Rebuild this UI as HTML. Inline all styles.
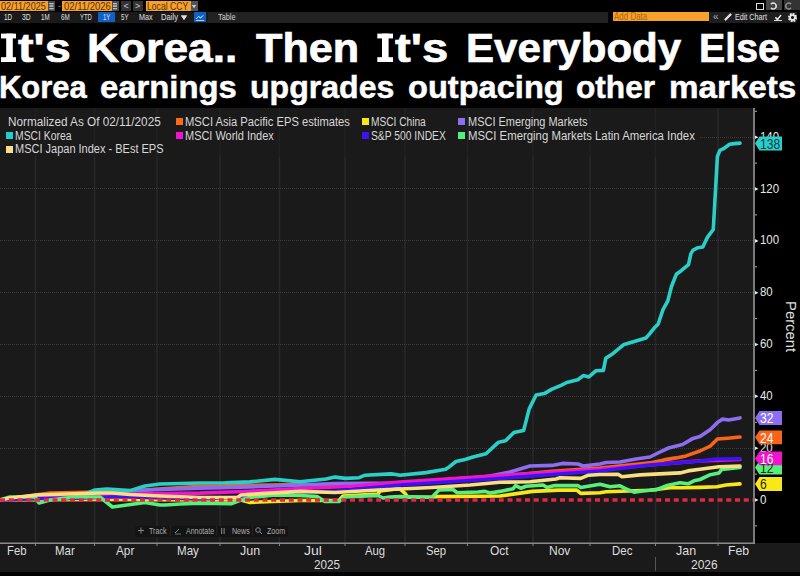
<!DOCTYPE html>
<html><head><meta charset="utf-8">
<style>
*{margin:0;padding:0;box-sizing:border-box}
html,body{width:800px;height:576px;background:#000;overflow:hidden}
body{position:relative;font-family:"Liberation Sans",sans-serif;color:#e8e8e8}
.a{position:absolute;white-space:nowrap;transform-origin:0 0}
.tb{font-size:9px;line-height:10px}
</style></head><body>
<!-- toolbar row 1 -->
<div class="a" style="left:0;top:1px;width:48px;height:10px;background:#f5a12c"></div>
<div class="a" style="left:48px;top:1px;width:7px;height:10px;background:#4a4a4a"></div>
<div class="a tb" style="left:58px;top:1px;color:#888">-</div>
<div class="a" style="left:62px;top:1px;width:49.5px;height:10px;background:#f5a12c"></div>
<div class="a" style="left:111.5px;top:1px;width:7px;height:10px;background:#4a4a4a"></div>
<div class="a" style="left:121px;top:1px;width:10px;height:10px;background:#333"></div>
<div class="a tb" style="left:123.5px;top:1px;color:#ccc">&lt;</div>
<div class="a" style="left:132.5px;top:1px;width:10px;height:10px;background:#333"></div>
<div class="a tb" style="left:135px;top:1px;color:#ccc">&gt;</div>
<div class="a" style="left:145.5px;top:1px;width:45px;height:10px;background:#f5a12c"></div>
<div class="a" style="left:190.5px;top:1px;width:7px;height:10px;background:#555"></div>
<!-- toolbar row 2 -->
<div class="a" style="left:0;top:12px;width:208px;height:11px;background:#1a1a1a"></div>
<div class="a" style="left:208px;top:12px;width:400px;height:11px;background:#222"></div>
<div class="a" style="left:98px;top:12px;width:17px;height:10px;background:#1060c8"></div>
<div class="a" style="left:194px;top:12px;width:12px;height:10px;background:#1060c8"></div>
<div class="a" style="left:613px;top:12px;width:96px;height:9px;background:#f5a12c"></div>
<div class="a" style="left:709px;top:12px;width:88px;height:11px;background:#1e1e1e"></div>
<div class="a tb" style="left:713px;top:12px;color:#aac;font-size:10px">&laquo;</div>

<div class="a" style="left:756px;top:3px;width:8px;height:7px;border:1px solid #ddd"></div>
<div class="a" style="left:766px;top:0;width:16px;height:10px;background:#444"></div>
<div class="a" style="left:783.5px;top:0;width:16.5px;height:10px;background:#333"></div>
<!-- chart bg -->
<div class="a" style="left:0;top:108px;width:754px;height:435px;background:#1a1a1a"></div>
<div class="a" style="left:0;top:543px;width:800px;height:28.5px;background:#1a1a1a"></div>
<svg class="a" style="left:0;top:0" width="800" height="576" viewBox="0 0 800 576">
<line x1="35.5" y1="108" x2="35.5" y2="543" stroke="#282828" stroke-width="1.5"/>
<line x1="35.5" y1="543" x2="35.5" y2="546" stroke="#888" stroke-width="1"/>
<line x1="94.5" y1="108" x2="94.5" y2="543" stroke="#282828" stroke-width="1.5"/>
<line x1="94.5" y1="543" x2="94.5" y2="546" stroke="#888" stroke-width="1"/>
<line x1="157" y1="108" x2="157" y2="543" stroke="#282828" stroke-width="1.5"/>
<line x1="157" y1="543" x2="157" y2="546" stroke="#888" stroke-width="1"/>
<line x1="220" y1="108" x2="220" y2="543" stroke="#282828" stroke-width="1.5"/>
<line x1="220" y1="543" x2="220" y2="546" stroke="#888" stroke-width="1"/>
<line x1="279.5" y1="108" x2="279.5" y2="543" stroke="#282828" stroke-width="1.5"/>
<line x1="279.5" y1="543" x2="279.5" y2="546" stroke="#888" stroke-width="1"/>
<line x1="345" y1="108" x2="345" y2="543" stroke="#282828" stroke-width="1.5"/>
<line x1="345" y1="543" x2="345" y2="546" stroke="#888" stroke-width="1"/>
<line x1="405" y1="108" x2="405" y2="543" stroke="#282828" stroke-width="1.5"/>
<line x1="405" y1="543" x2="405" y2="546" stroke="#888" stroke-width="1"/>
<line x1="467.5" y1="108" x2="467.5" y2="543" stroke="#282828" stroke-width="1.5"/>
<line x1="467.5" y1="543" x2="467.5" y2="546" stroke="#888" stroke-width="1"/>
<line x1="533" y1="108" x2="533" y2="543" stroke="#282828" stroke-width="1.5"/>
<line x1="533" y1="543" x2="533" y2="546" stroke="#888" stroke-width="1"/>
<line x1="590" y1="108" x2="590" y2="543" stroke="#282828" stroke-width="1.5"/>
<line x1="590" y1="543" x2="590" y2="546" stroke="#888" stroke-width="1"/>
<line x1="655.5" y1="108" x2="655.5" y2="543" stroke="#282828" stroke-width="1.5"/>
<line x1="655.5" y1="543" x2="655.5" y2="546" stroke="#888" stroke-width="1"/>
<line x1="718" y1="108" x2="718" y2="543" stroke="#282828" stroke-width="1.5"/>
<line x1="718" y1="543" x2="718" y2="546" stroke="#888" stroke-width="1"/>
<line x1="700" y1="137.5" x2="753" y2="137.5" stroke="#3a3a3a" stroke-width="1" stroke-dasharray="1,1"/>
<line x1="0" y1="188.5" x2="753" y2="188.5" stroke="#3a3a3a" stroke-width="1" stroke-dasharray="1,1"/>
<line x1="0" y1="240.5" x2="753" y2="240.5" stroke="#3a3a3a" stroke-width="1" stroke-dasharray="1,1"/>
<line x1="0" y1="292.5" x2="753" y2="292.5" stroke="#3a3a3a" stroke-width="1" stroke-dasharray="1,1"/>
<line x1="0" y1="344.5" x2="753" y2="344.5" stroke="#3a3a3a" stroke-width="1" stroke-dasharray="1,1"/>
<line x1="0" y1="396.5" x2="753" y2="396.5" stroke="#3a3a3a" stroke-width="1" stroke-dasharray="1,1"/>
<line x1="0" y1="448.5" x2="753" y2="448.5" stroke="#3a3a3a" stroke-width="1" stroke-dasharray="1,1"/>
<rect x="0" y="108" width="700" height="49" fill="#1a1a1a" fill-opacity="0.5"/>
<polyline fill="none" stroke="#f8641c" stroke-width="3.6" stroke-linejoin="round" stroke-linecap="round" points="0,500 35,495 50,493 75,492.5 100,492 145,490 200,486.25 300,484.5 335,486 400,483.5 460,478.5 497,476 526,473.9 552,471.25 600,468 650,462.9 664,459.9 676,457.9 686,455.9 700,451 710.4,446 717.4,439 727.8,438.2 740,437"/>
<polyline fill="none" stroke="#f8e818" stroke-width="3.6" stroke-linejoin="round" stroke-linecap="round" points="0,500 100,499.5 200,500 241,500 250,502.5 259,502 300,500.5 339,500.5 343,496 378,494 380,491 396,489 400,489 405,493.4 408,497.3 432,497.3 436,496.6 500,496 532.5,491.4 558.6,490.1 576.8,490.1 580.7,493.4 600,492.7 606,491.8 650,490.2 670,487.8 680,487.8 700,487.4 717,486.8 726,485 740,483.9"/>
<polyline fill="none" stroke="#8c6ff0" stroke-width="3.6" stroke-linejoin="round" stroke-linecap="round" points="0,500 50,498 100,495 145,490 200,488.1 250,486.9 300,485 335,483.5 400,483 460,479.5 490,476 510,472 530,466 552,465.4 562.5,463.4 578,464 583,466 600,464 606,462.5 620,462 636,459 650,457 658,453 668.5,448 682.5,444.5 693,438.4 700,436.6 710.4,429.5 717.4,422.6 722.6,419.1 728.6,420 740,417.9"/>
<polyline fill="none" stroke="#2ad0c8" stroke-width="3.6" stroke-linejoin="round" stroke-linecap="round" points="0,500 30,498.5 60,496.5 85,494 95,490 107,489 130,490.6 145,486 160,484 200,483 225,482.8 250,481.9 275,479.4 287.5,480.6 300,481.7 326,479 335,477.1 345.6,478.4 358.6,477.8 365,475.2 391,473.9 396,474.5 400,475.2 426,472.6 445.6,469.3 449.5,466.7 456,461.5 465,459.5 473,457 486,453.7 491,449.1 498.6,442.2 505.6,440.8 513.9,432.5 523.6,430.6 529.2,408.9 536.1,395 544.4,393.6 551.4,389.4 561.1,385.3 566.7,382.5 577.8,379.7 583.3,375.6 588.9,376.9 595.8,370.8 603.4,370.4 605.8,358.2 613.1,353.4 624,344.4 632.6,341.9 645.9,338 649.6,333.9 654.4,327.8 658.1,324.2 663,309.6 667.8,301 671.5,286.5 676.3,274.3 681.2,270.7 688.5,264.6 690.9,253.6 693.1,250.1 698,247.7 702.8,247 707.7,236.8 713.3,229.5 717.4,156.5 719.9,150.4 723.5,148.7 729.6,144.3 734.5,143.6 740,143.1"/>
<polyline fill="none" stroke="#f014cc" stroke-width="3.6" stroke-linejoin="round" stroke-linecap="round" points="0,500 50,497 100,494 130,494 200,493.1 250,491.25 300,488.5 352,486.2 400,482 500,475.5 600,469.4 650,464.9 700,460.9 740,459.5"/>
<polyline fill="none" stroke="#3c14f4" stroke-width="3.6" stroke-linejoin="round" stroke-linecap="round" points="0,500 41,498.5 67,498.5 100,497.5 112,497 130,497 200,499 244,496.9 250,497 300,492 335,491.4 400,485 500,478.5 600,471 650,465 700,461 717,459 740,458.7"/>
<polyline fill="none" stroke="#56f07a" stroke-width="3.6" stroke-linejoin="round" stroke-linecap="round" points="0,500 10,497 35,497 39,503 50,500 75,497 100,497 112.5,507 145,502.5 160,505 165,505 180,504 200,503.1 231,503.75 241,500 250,497.5 275,495 300,495.5 317,496.5 325,501.5 339,501.5 345,497 378,495.5 383,498 390,497 400,496.6 432,497.3 439,490 453,489.5 457,492.7 478,492 485,491.4 490,493 500,491.4 513,488.8 515.6,485.6 520.8,488.2 526,486.2 543,485 547,487.5 554.7,485.6 578,485.6 580.7,487.5 600,484.3 610,486.8 620,485.8 626,488.8 634,492.2 644,490.8 656,489.8 666,485.8 680,482.8 688,483.8 694,480.8 700,479.5 710.4,474.7 719,473 721.7,469.4 740,467.4"/>
<polyline fill="none" stroke="#f8e080" stroke-width="3.6" stroke-linejoin="round" stroke-linecap="round" points="0,500 10,498 37,495 50,494.5 75,493.7 100,493 112,493 130,494.5 160,496 200,497.5 237.5,497.5 241,495 250,494.4 300,491.4 335,492.5 378,490 400,489 432,487.5 470,485 500,482.3 530,481.7 556,479 560,477.8 580.7,478.4 588.5,475.2 600,474.5 618,474.25 622,476.8 640,474.9 680,472.9 688,470.9 700,469.2 719,466.8 740,466"/>
<line x1="0" y1="500" x2="753" y2="500" stroke="#e0284a" stroke-width="3.5" stroke-dasharray="5,3.75"/>
<line x1="754" y1="108" x2="754" y2="543" stroke="#7a7a7a" stroke-width="2"/>
<line x1="0" y1="543.2" x2="755" y2="543.2" stroke="#8a8a8a" stroke-width="1.6"/>
<line x1="655.5" y1="557" x2="655.5" y2="571" stroke="#555" stroke-width="1"/>
<polygon points="755,135.4 758.5,137.2 755,139.0" fill="#e8e8e8"/>
<polygon points="755,187.2 758.5,189.0 755,190.8" fill="#e8e8e8"/>
<polygon points="755,239.1 758.5,240.9 755,242.7" fill="#e8e8e8"/>
<polygon points="755,290.9 758.5,292.7 755,294.5" fill="#e8e8e8"/>
<polygon points="755,342.7 758.5,344.5 755,346.3" fill="#e8e8e8"/>
<polygon points="755,394.5 758.5,396.3 755,398.1" fill="#e8e8e8"/>
<polygon points="755,446.4 758.5,448.2 755,450.0" fill="#e8e8e8"/>
<polygon points="755,498.2 758.5,500.0 755,501.8" fill="#e8e8e8"/>
<line x1="755" y1="111.3" x2="757" y2="111.3" stroke="#aaa" stroke-width="1"/>
<line x1="755" y1="163.1" x2="757" y2="163.1" stroke="#aaa" stroke-width="1"/>
<line x1="755" y1="214.9" x2="757" y2="214.9" stroke="#aaa" stroke-width="1"/>
<line x1="755" y1="266.8" x2="757" y2="266.8" stroke="#aaa" stroke-width="1"/>
<line x1="755" y1="318.6" x2="757" y2="318.6" stroke="#aaa" stroke-width="1"/>
<line x1="755" y1="370.4" x2="757" y2="370.4" stroke="#aaa" stroke-width="1"/>
<line x1="755" y1="422.3" x2="757" y2="422.3" stroke="#aaa" stroke-width="1"/>
<line x1="755" y1="474.1" x2="757" y2="474.1" stroke="#aaa" stroke-width="1"/>
<line x1="755" y1="525.9" x2="757" y2="525.9" stroke="#aaa" stroke-width="1"/>
</svg>
<div class="a" style="left:135px;top:525.5px;width:153px;height:11px;background:#141414"></div>
<svg class="a" style="left:0;top:0" width="800" height="576">
<line x1="141" y1="527.5" x2="141" y2="533.5" stroke="#888" stroke-width="1"/><line x1="138" y1="530.5" x2="144" y2="530.5" stroke="#888" stroke-width="1"/>
<line x1="170.5" y1="526" x2="170.5" y2="536" stroke="#222" stroke-width="1"/>
<line x1="216.5" y1="526" x2="216.5" y2="536" stroke="#222" stroke-width="1"/>
<line x1="252.5" y1="526" x2="252.5" y2="536" stroke="#222" stroke-width="1"/>
<polyline points="175,533 179,529" stroke="#888" stroke-width="1" fill="none"/><line x1="175" y1="534" x2="181" y2="534" stroke="#888" stroke-width="0.8"/>
<rect x="221" y="528" width="1.2" height="6" fill="#777"/><rect x="223.5" y="528" width="1.2" height="6" fill="#777"/>
<circle cx="258" cy="530" r="2.3" fill="none" stroke="#888" stroke-width="1"/><line x1="259.8" y1="531.8" x2="262" y2="534" stroke="#888" stroke-width="1"/>
</svg>
<svg class="a" style="left:0;top:0" width="800" height="70">
<rect x="1" y="33.6" width="15" height="4.8" fill="#fff"/><rect x="6.2" y="33.6" width="6.6" height="28.4" fill="#fff"/><rect x="1" y="57.2" width="15" height="4.8" fill="#fff"/>
<rect x="377.3" y="33.6" width="15.7" height="4.8" fill="#fff"/><rect x="382" y="33.6" width="6.6" height="28.4" fill="#fff"/><rect x="377.3" y="57.2" width="15.7" height="4.8" fill="#fff"/>
</svg>
<div class="a" style="left:6px;top:132px;width:7px;height:7px;background:#20d0c8"></div>
<div class="a" style="left:6px;top:145.5px;width:7px;height:7px;background:#f8e080"></div>
<div class="a" style="left:176px;top:118px;width:7px;height:7px;background:#ff6a10"></div>
<div class="a" style="left:176px;top:132px;width:7px;height:7px;background:#f014d0"></div>
<div class="a" style="left:362px;top:118px;width:7px;height:7px;background:#f8e818"></div>
<div class="a" style="left:362px;top:132px;width:7px;height:7px;background:#3c14f4"></div>
<div class="a" style="left:458px;top:118px;width:7px;height:7px;background:#8c70f0"></div>
<div class="a" style="left:458px;top:132px;width:7px;height:7px;background:#50f07a"></div>
<div class="a" style="left:18.00px;top:27.99px;font-size:41px;line-height:41px;color:#ffffff;font-weight:bold;transform:scaleX(1.1431);-webkit-text-stroke:0.7px #fff">t&#x27;s</div>
<div class="a" style="left:87.24px;top:27.99px;font-size:41px;line-height:41px;color:#ffffff;font-weight:bold;transform:scaleX(1.0817);-webkit-text-stroke:0.7px #fff">Korea..</div>
<div class="a" style="left:256.00px;top:27.99px;font-size:41px;line-height:41px;color:#ffffff;font-weight:bold;transform:scaleX(1.0533);-webkit-text-stroke:0.7px #fff">Then</div>
<div class="a" style="left:395.30px;top:27.99px;font-size:41px;line-height:41px;color:#ffffff;font-weight:bold;transform:scaleX(1.1519);-webkit-text-stroke:0.7px #fff">t&#x27;s</div>
<div class="a" style="left:465.55px;top:27.99px;font-size:41px;line-height:41px;color:#ffffff;font-weight:bold;transform:scaleX(1.0267);-webkit-text-stroke:0.7px #fff">Everybody</div>
<div class="a" style="left:699.48px;top:27.99px;font-size:41px;line-height:41px;color:#ffffff;font-weight:bold;transform:scaleX(0.9590);-webkit-text-stroke:0.7px #fff">Else</div>
<div class="a" style="left:-0.93px;top:71.21px;font-size:32px;line-height:32px;color:#ffffff;font-weight:bold;transform:scaleX(0.9673);-webkit-text-stroke:0.5px #fff">Korea</div>
<div class="a" style="left:100.22px;top:71.21px;font-size:32px;line-height:32px;color:#ffffff;font-weight:bold;transform:scaleX(1.0260);-webkit-text-stroke:0.5px #fff">earnings</div>
<div class="a" style="left:250.25px;top:71.21px;font-size:32px;line-height:32px;color:#ffffff;font-weight:bold;transform:scaleX(1.0019);-webkit-text-stroke:0.5px #fff">upgrades</div>
<div class="a" style="left:407.73px;top:71.21px;font-size:32px;line-height:32px;color:#ffffff;font-weight:bold;transform:scaleX(1.0188);-webkit-text-stroke:0.5px #fff">outpacing</div>
<div class="a" style="left:575.91px;top:71.21px;font-size:32px;line-height:32px;color:#ffffff;font-weight:bold;transform:scaleX(0.9879);-webkit-text-stroke:0.5px #fff">other</div>
<div class="a" style="left:668.53px;top:71.21px;font-size:32px;line-height:32px;color:#ffffff;font-weight:bold;transform:scaleX(1.0371);-webkit-text-stroke:0.5px #fff">markets</div>
<div class="a" style="left:8.00px;top:116.04px;font-size:12px;line-height:12px;color:#d8d8d8;font-weight:normal;transform:scaleX(0.9799);">Normalized As Of 02/11/2025</div>
<div class="a" style="left:15.30px;top:129.84px;font-size:12px;line-height:12px;color:#d8d8d8;font-weight:normal;transform:scaleX(0.8633);">MSCI Korea</div>
<div class="a" style="left:15.30px;top:143.04px;font-size:12px;line-height:12px;color:#d8d8d8;font-weight:normal;transform:scaleX(0.9163);">MSCI Japan Index - BEst EPS</div>
<div class="a" style="left:185.00px;top:116.04px;font-size:12px;line-height:12px;color:#d8d8d8;font-weight:normal;transform:scaleX(0.9330);">MSCI Asia Pacific EPS estimates</div>
<div class="a" style="left:185.00px;top:129.84px;font-size:12px;line-height:12px;color:#d8d8d8;font-weight:normal;transform:scaleX(0.9136);">MSCI World Index</div>
<div class="a" style="left:371.25px;top:116.04px;font-size:12px;line-height:12px;color:#d8d8d8;font-weight:normal;transform:scaleX(0.8460);">MSCI China</div>
<div class="a" style="left:371.25px;top:129.84px;font-size:12px;line-height:12px;color:#d8d8d8;font-weight:normal;transform:scaleX(0.8584);">S&amp;P 500 INDEX</div>
<div class="a" style="left:467.50px;top:116.04px;font-size:12px;line-height:12px;color:#d8d8d8;font-weight:normal;transform:scaleX(0.9143);">MSCI Emerging Markets</div>
<div class="a" style="left:467.50px;top:129.84px;font-size:12px;line-height:12px;color:#d8d8d8;font-weight:normal;transform:scaleX(0.9476);">MSCI Emerging Markets Latin America Index</div>
<div class="a" style="left:6.62px;top:544.76px;font-size:12.8px;line-height:12.8px;color:#dedede;font-weight:normal;transform:scaleX(0.8837);">Feb</div>
<div class="a" style="left:54.60px;top:544.76px;font-size:12.8px;line-height:12.8px;color:#dedede;font-weight:normal;transform:scaleX(0.8954);">Mar</div>
<div class="a" style="left:116.00px;top:544.76px;font-size:12.8px;line-height:12.8px;color:#dedede;font-weight:normal;transform:scaleX(0.9200);">Apr</div>
<div class="a" style="left:176.60px;top:544.76px;font-size:12.8px;line-height:12.8px;color:#dedede;font-weight:normal;transform:scaleX(0.9042);">May</div>
<div class="a" style="left:240.00px;top:544.76px;font-size:12.8px;line-height:12.8px;color:#dedede;font-weight:normal;transform:scaleX(0.9749);">Jun</div>
<div class="a" style="left:304.00px;top:544.76px;font-size:12.8px;line-height:12.8px;color:#dedede;font-weight:normal;transform:scaleX(1.0957);">Jul</div>
<div class="a" style="left:365.00px;top:544.76px;font-size:12.8px;line-height:12.8px;color:#dedede;font-weight:normal;transform:scaleX(0.8829);">Aug</div>
<div class="a" style="left:426.00px;top:544.76px;font-size:12.8px;line-height:12.8px;color:#dedede;font-weight:normal;transform:scaleX(0.8829);">Sep</div>
<div class="a" style="left:490.00px;top:544.76px;font-size:12.8px;line-height:12.8px;color:#dedede;font-weight:normal;transform:scaleX(0.9336);">Oct</div>
<div class="a" style="left:549.06px;top:544.76px;font-size:12.8px;line-height:12.8px;color:#dedede;font-weight:normal;transform:scaleX(0.9392);">Nov</div>
<div class="a" style="left:611.61px;top:544.76px;font-size:12.8px;line-height:12.8px;color:#dedede;font-weight:normal;transform:scaleX(0.8945);">Dec</div>
<div class="a" style="left:676.00px;top:544.76px;font-size:12.8px;line-height:12.8px;color:#dedede;font-weight:normal;transform:scaleX(0.9749);">Jan</div>
<div class="a" style="left:728.04px;top:544.76px;font-size:12.8px;line-height:12.8px;color:#dedede;font-weight:normal;transform:scaleX(0.9554);">Feb</div>
<div class="a" style="left:313.50px;top:559.36px;font-size:12.8px;line-height:12.8px;color:#dedede;font-weight:normal;transform:scaleX(0.9171);">2025</div>
<div class="a" style="left:691.00px;top:559.36px;font-size:12.8px;line-height:12.8px;color:#dedede;font-weight:normal;transform:scaleX(0.9347);">2026</div>
<div class="a" style="left:760.25px;top:130.77px;font-size:12.8px;line-height:12.8px;color:#e8e8e8;font-weight:normal;transform:scaleX(0.8948);">140</div>
<div class="a" style="left:760.25px;top:182.60px;font-size:12.8px;line-height:12.8px;color:#e8e8e8;font-weight:normal;transform:scaleX(0.8948);">120</div>
<div class="a" style="left:760.25px;top:234.42px;font-size:12.8px;line-height:12.8px;color:#e8e8e8;font-weight:normal;transform:scaleX(0.8948);">100</div>
<div class="a" style="left:760.25px;top:286.25px;font-size:12.8px;line-height:12.8px;color:#e8e8e8;font-weight:normal;transform:scaleX(0.8925);">80</div>
<div class="a" style="left:760.25px;top:338.08px;font-size:12.8px;line-height:12.8px;color:#e8e8e8;font-weight:normal;transform:scaleX(0.8925);">60</div>
<div class="a" style="left:760.25px;top:389.91px;font-size:12.8px;line-height:12.8px;color:#e8e8e8;font-weight:normal;transform:scaleX(0.8925);">40</div>
<div class="a" style="left:760.25px;top:441.74px;font-size:12.8px;line-height:12.8px;color:#e8e8e8;font-weight:normal;transform:scaleX(0.8925);">20</div>
<div class="a" style="left:760.25px;top:493.56px;font-size:12.8px;line-height:12.8px;color:#e8e8e8;font-weight:normal;transform:scaleX(0.9000);">0</div>
<div class="a" style="left:1.00px;top:1.41px;font-size:10.5px;line-height:10.5px;color:#5a3000;font-weight:normal;transform:scaleX(0.8665);">02/11/2025</div>
<div class="a" style="left:64.00px;top:1.41px;font-size:10.5px;line-height:10.5px;color:#5a3000;font-weight:normal;transform:scaleX(0.9050);">02/11/2026</div>
<div class="a" style="left:146.60px;top:1.41px;font-size:10.5px;line-height:10.5px;color:#5a3000;font-weight:normal;transform:scaleX(0.8210);">Local CCY</div>
<div class="a" style="left:3.75px;top:13.86px;font-size:8.2px;line-height:8.2px;color:#e0e0e0;font-weight:normal;transform:scaleX(0.7723);">1D</div>
<div class="a" style="left:21.90px;top:13.86px;font-size:8.2px;line-height:8.2px;color:#e0e0e0;font-weight:normal;transform:scaleX(0.8244);">3D</div>
<div class="a" style="left:41.25px;top:13.86px;font-size:8.2px;line-height:8.2px;color:#e0e0e0;font-weight:normal;transform:scaleX(0.7573);">1M</div>
<div class="a" style="left:60.60px;top:13.86px;font-size:8.2px;line-height:8.2px;color:#e0e0e0;font-weight:normal;transform:scaleX(0.7617);">6M</div>
<div class="a" style="left:80.00px;top:13.86px;font-size:8.2px;line-height:8.2px;color:#e0e0e0;font-weight:normal;transform:scaleX(0.7229);">YTD</div>
<div class="a" style="left:103.40px;top:13.86px;font-size:8.2px;line-height:8.2px;color:#e0e0e0;font-weight:normal;transform:scaleX(0.7201);">1Y</div>
<div class="a" style="left:120.90px;top:13.86px;font-size:8.2px;line-height:8.2px;color:#e0e0e0;font-weight:normal;transform:scaleX(0.7438);">5Y</div>
<div class="a" style="left:138.70px;top:13.86px;font-size:8.2px;line-height:8.2px;color:#e0e0e0;font-weight:normal;transform:scaleX(0.8781);">Max</div>
<div class="a" style="left:160.60px;top:13.86px;font-size:8.2px;line-height:8.2px;color:#e0e0e0;font-weight:normal;transform:scaleX(0.9370);">Daily</div>
<div class="a" style="left:218.10px;top:13.38px;font-size:9px;line-height:9px;color:#d0d0d0;font-weight:normal;transform:scaleX(0.8136);">Table</div>
<div class="a" style="left:614.20px;top:11.79px;font-size:10px;line-height:10px;color:#b06800;font-weight:normal;transform:scaleX(0.7975);">Add Data</div>
<div class="a" style="left:735.40px;top:13.38px;font-size:9px;line-height:9px;color:#e0e0e0;font-weight:normal;transform:scaleX(0.7972);">Edit Chart</div>
<div class="a" style="left:149.40px;top:526.74px;font-size:8.7px;line-height:8.7px;color:#b0b0b0;font-weight:normal;transform:scaleX(0.8208);">Track</div>
<div class="a" style="left:185.60px;top:526.74px;font-size:8.7px;line-height:8.7px;color:#b0b0b0;font-weight:normal;transform:scaleX(0.8069);">Annotate</div>
<div class="a" style="left:232.30px;top:526.74px;font-size:8.7px;line-height:8.7px;color:#b0b0b0;font-weight:normal;transform:scaleX(0.8133);">News</div>
<div class="a" style="left:267.00px;top:526.74px;font-size:8.7px;line-height:8.7px;color:#b0b0b0;font-weight:normal;transform:scaleX(0.8193);">Zoom</div>
<svg class="a" style="left:0;top:0" width="800" height="576">
<polygon points="755,143.5 759.5,136.6 782,136.6 782,150.4 759.5,150.4" fill="#2ad0c8"/>
<polygon points="755,418.0 759.5,411.1 782,411.1 782,424.9 759.5,424.9" fill="#8c6ff0"/>
<polygon points="755,437.3 759.5,430.4 782,430.4 782,444.2 759.5,444.2" fill="#f8641c"/>
<polygon points="755,467.6 759.5,460.7 782,460.7 782,474.5 759.5,474.5" fill="#56f07a"/>
<polygon points="755,458.4 759.5,451.5 782,451.5 782,465.3 759.5,465.3" fill="#f014cc"/>
<polygon points="755,484.0 759.5,477.1 782,477.1 782,490.9 759.5,490.9" fill="#f8e818"/>
</svg>
<div class="a" style="left:760px;top:136.9px;font-size:14px;line-height:14px;color:#0a3a48;transform:scaleX(0.86)">138</div>
<div class="a" style="left:760px;top:411.4px;font-size:14px;line-height:14px;color:#ffffff;transform:scaleX(0.86)">32</div>
<div class="a" style="left:760px;top:430.7px;font-size:14px;line-height:14px;color:#ffffff;transform:scaleX(0.86)">24</div>
<div class="a" style="left:760px;top:461.0px;font-size:14px;line-height:14px;color:#1a2a1a;transform:scaleX(0.86)">12</div>
<div class="a" style="left:760px;top:451.8px;font-size:14px;line-height:14px;color:#ffffff;transform:scaleX(0.86)">16</div>
<div class="a" style="left:760px;top:477.4px;font-size:14px;line-height:14px;color:#2a2400;transform:scaleX(0.86)">6</div>
<div class="a" style="left:798.2px;top:300.8px;transform:rotate(90deg) scaleX(1.06);font-size:14px;line-height:14px;color:#e0e0e0">Percent</div>
<!-- bottom toolbar -->
<svg class="a" style="left:0;top:0" width="800" height="24">
<polygon points="181,15.5 187,15.5 184,20" fill="#e0e0e0"/>
<polygon points="192,5 196,5 194,8" fill="#ccc"/>
<rect x="49.5" y="3" width="4" height="1.2" fill="#bbb"/><rect x="49.5" y="5.5" width="4" height="1.2" fill="#bbb"/><rect x="49.5" y="8" width="4" height="1.2" fill="#bbb"/>
<rect x="113" y="3" width="4" height="1.2" fill="#bbb"/><rect x="113" y="5.5" width="4" height="1.2" fill="#bbb"/><rect x="113" y="8" width="4" height="1.2" fill="#bbb"/>
<polyline points="196,19 198.5,16.5 200.5,18 203,15.5" fill="none" stroke="#cfe0ff" stroke-width="0.8"/>
<line x1="196" y1="20.5" x2="204" y2="20.5" stroke="#cfe0ff" stroke-width="0.6"/>
<polyline points="725,20 731,14" stroke="#ddd" stroke-width="2" fill="none"/>
<line x1="774" y1="20.5" x2="782" y2="20.5" stroke="#ddd" stroke-width="1"/>
<polyline points="775.5,17.5 777.5,19.5 781,15" stroke="#eee" stroke-width="1.2" fill="none"/>
<circle cx="792.5" cy="17.5" r="3.6" fill="none" stroke="#e8e8e8" stroke-width="1.6" stroke-dasharray="1.6,1.2"/><circle cx="792.5" cy="17.5" r="2.4" fill="none" stroke="#e8e8e8" stroke-width="1.4"/>
<path d="M771,8 a3,3 0 1 0 0,-4 l2,-1" fill="none" stroke="#ddd" stroke-width="1.2"/>
<path d="M791,8 a3,3 0 1 1 0,-4 l-2,-1" fill="none" stroke="#888" stroke-width="1.2"/>
</svg>
<svg class="a" style="left:0;top:0" width="800" height="24">
<polygon points="181,15.5 187,15.5 184,20" fill="#e0e0e0"/>
<polygon points="192,5 196,5 194,8" fill="#ccc"/>
<rect x="49.5" y="3" width="4" height="1.2" fill="#bbb"/><rect x="49.5" y="5.5" width="4" height="1.2" fill="#bbb"/><rect x="49.5" y="8" width="4" height="1.2" fill="#bbb"/>
<rect x="113" y="3" width="4" height="1.2" fill="#bbb"/><rect x="113" y="5.5" width="4" height="1.2" fill="#bbb"/><rect x="113" y="8" width="4" height="1.2" fill="#bbb"/>
<polyline points="196,19 198.5,16.5 200.5,18 203,15.5" fill="none" stroke="#cfe0ff" stroke-width="0.8"/>
<line x1="196" y1="20.5" x2="204" y2="20.5" stroke="#cfe0ff" stroke-width="0.6"/>
<polyline points="725,20 731,14" stroke="#ddd" stroke-width="2" fill="none"/>
<line x1="774" y1="20.5" x2="782" y2="20.5" stroke="#ddd" stroke-width="1"/>
<polyline points="775.5,17.5 777.5,19.5 781,15" stroke="#eee" stroke-width="1.2" fill="none"/>
<circle cx="792.5" cy="17.5" r="3.6" fill="none" stroke="#e8e8e8" stroke-width="1.6" stroke-dasharray="1.6,1.2"/><circle cx="792.5" cy="17.5" r="2.4" fill="none" stroke="#e8e8e8" stroke-width="1.4"/>
<path d="M771,8 a3,3 0 1 0 0,-4 l2,-1" fill="none" stroke="#ddd" stroke-width="1.2"/>
<path d="M791,8 a3,3 0 1 1 0,-4 l-2,-1" fill="none" stroke="#888" stroke-width="1.2"/>
</svg>
</body></html>
